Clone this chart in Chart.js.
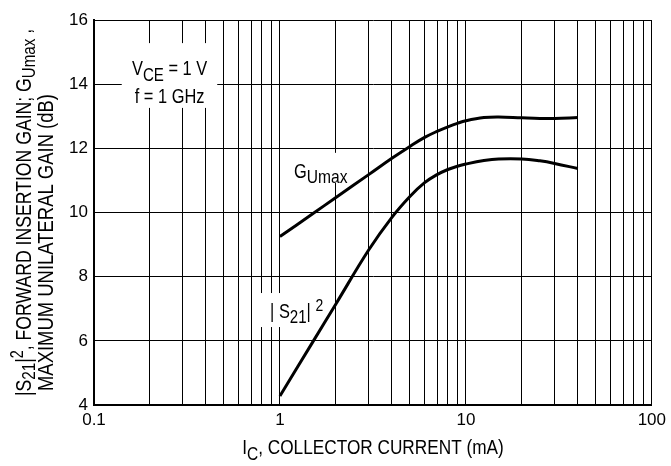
<!DOCTYPE html>
<html><head><meta charset="utf-8">
<script src="https://cdn.jsdelivr.net/npm/chart.js@4.4.0/dist/chart.umd.min.js"></script>
<style>html,body{margin:0;padding:0;background:#fff}#wrap{width:671px;height:466px;position:relative}</style>
</head><body><div id="wrap"><canvas id="c" width="671" height="466"></canvas></div>
<script>
// ---- data ----
const currents = [1, 1.5, 2, 3, 4, 5, 6, 7, 8, 9, 10, 12.5, 15, 20, 25, 30, 40];
const gumax    = [9.25, 9.96, 10.47, 11.18, 11.69, 12.06, 12.34, 12.53, 12.67, 12.78, 12.86, 12.96, 12.98, 12.95, 12.93, 12.93, 12.96];
const s21      = [4.28, 5.96, 7.15, 8.83, 9.85, 10.5, 10.93, 11.18, 11.34, 11.44, 11.51, 11.62, 11.67, 11.67, 11.61, 11.53, 11.37];
const xTickLabels = [0.1, 1, 10, 100];
const yMin = 4, yMax = 16, yStep = 2;

function hasFont(name){
  const c = document.createElement('canvas').getContext('2d');
  c.font = '40px monospace'; const a = c.measureText('MMMiiWWlll').width;
  c.font = '40px "' + name + '", monospace'; const b = c.measureText('MMMiiWWlll').width;
  return a !== b;
}
const NARROW = hasFont('Liberation Sans Narrow');
const FAM = NARROW ? '"Liberation Sans Narrow"' : '"Liberation Sans"';
const CX = NARROW ? 1 : 0.82;
const TICK_SIZE = NARROW ? 20 : 17;

function drawRich(ctx, parts, x, y, size, rot, align) {
  ctx.save();
  ctx.fillStyle = '#000';
  ctx.textAlign = 'left';
  ctx.textBaseline = 'alphabetic';
  let w = 0;
  for (const p of parts) { ctx.font = (size*(p.s||1)) + 'px ' + FAM; w += ctx.measureText(p.t).width; }
  ctx.translate(x, y);
  if (rot) ctx.rotate(rot);
  ctx.scale(CX, 1);
  let cx = align === 'center' ? -w/2 : 0;
  for (const p of parts) {
    ctx.font = (size*(p.s||1)) + 'px ' + FAM;
    ctx.fillText(p.t, cx, p.dy || 0);
    cx += ctx.measureText(p.t).width;
  }
  ctx.restore();
}

const labelPlugin = {
  id: 'labels',
  beforeDatasetsDraw(chart) {
    const ctx = chart.ctx, xs = chart.scales.x, ys = chart.scales.y;
    const X = v => xs.getPixelForValue(v), Y = v => ys.getPixelForValue(v);
    ctx.save();
    ctx.fillStyle = '#fff';
    const boxes = [[0.141, 0.46, 15.28, 13.26], [1.086, 2.6, 11.86, 10.92], [0.79, 1.94, 7.49, 6.43]];
    for (const b of boxes) {
      const x0 = X(b[0]), x1 = X(b[1]), y0 = Y(b[2]), y1 = Y(b[3]);
      ctx.fillRect(x0, y0, x1 - x0, y1 - y0);
    }
    ctx.restore();
    drawRich(ctx, [{t:'V'},{t:'CE', dy:6, s:0.92},{t:' = 1 V'}], X(0.255), Y(14.29), 20, 0, 'center');
    drawRich(ctx, [{t:'f = 1 GHz'}], X(0.255), Y(13.42), 20, 0, 'center');
    drawRich(ctx, [{t:'G'},{t:'Umax', dy:5, s:0.95}], X(1.19), Y(11.06), 20, 0, 'left');
    drawRich(ctx, [{t:'| S'},{t:'21', dy:5, s:0.92},{t:'| '},{t:'2', dy:-7, s:0.85}], X(0.885), Y(6.7), 20, 0, 'left');
  },
  afterDraw(chart) {
    const ctx = chart.ctx;
    drawRich(ctx, [{t:'|S'},{t:'21', dy:4, s:0.86},{t:'|'},{t:'2', dy:-8, s:0.82},{t:', FORWARD INSERTION GAIN; G'},{t:'Umax', dy:4, s:0.86},{t:' ,'}], 31, 396, 21.5, -Math.PI/2, 'left');
    drawRich(ctx, [{t:'MAXIMUM UNILATERAL GAIN (dB)'}], 53, 391, 22.5, -Math.PI/2, 'left');
    drawRich(ctx, [{t:'I'},{t:'C', dy:6, s:0.9},{t:', COLLECTOR CURRENT (mA)'}], 373, 454, 21, 0, 'center');
  }
};

const logTicks = [];
for (let e = -1; e <= 1; e++) for (let m = 1; m <= 9; m++) logTicks.push(+(m * Math.pow(10, e)).toPrecision(3));
logTicks.push(100);

new Chart(document.getElementById('c'), {
  type: 'line',
  data: {
    datasets: [
      { label: 'GUmax', data: currents.map((c,i)=>({x:c, y:gumax[i]})) },
      { label: '|S21|2', data: currents.map((c,i)=>({x:c, y:s21[i]})) }
    ]
  },
  options: {
    responsive: false, animation: false, devicePixelRatio: 1,
    layout: { padding: { left: 0, right: 15, top: 20, bottom: 0 } },
    elements: {
      line: { borderColor: '#000', borderWidth: 3, tension: 0.4, fill: false, borderCapStyle: 'butt' },
      point: { radius: 0, hoverRadius: 0 }
    },
    plugins: { legend: { display: false }, tooltip: { enabled: false } },
    scales: {
      x: {
        type: 'logarithmic', min: 0.1, max: 100,
        afterBuildTicks: s => { s.ticks = logTicks.map(v => ({ value: v })); },
        afterFit: s => { s.height = 61; },
        grid: { color: '#000', lineWidth: 1, drawTicks: false },
        border: { display: true, color: '#000', width: 2 },
        ticks: {
          autoSkip: false, maxRotation: 0, padding: 5, color: '#000',
          font: { family: FAM.replace(/"/g,''), size: TICK_SIZE },
          callback: v => xTickLabels.includes(+(+v).toPrecision(3)) ? String(+(+v).toPrecision(3)) : ''
        }
      },
      y: {
        min: yMin, max: yMax,
        afterFit: s => { s.width = 94; },
        grid: { color: '#000', lineWidth: 1, drawTicks: false },
        border: { display: true, color: '#000', width: 2 },
        ticks: { stepSize: yStep, padding: 6, color: '#000', font: { family: FAM.replace(/"/g,''), size: TICK_SIZE } }
      }
    }
  },
  plugins: [labelPlugin]
});
</script></body></html>
